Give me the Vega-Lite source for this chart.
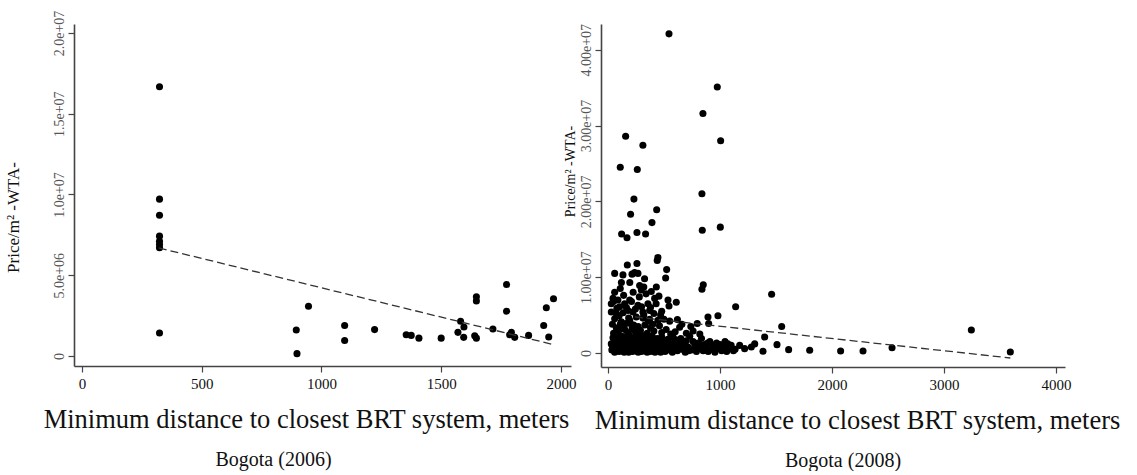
{
  "$schema": "https://vega.github.io/schema/vega-lite/v6.json",
  "background": "white",
  "padding": {"left": 3, "top": 10, "right": 0, "bottom": 0},
  "config": {
    "font": "Liberation Serif",
    "view": {"stroke": null},
    "axis": {"grid": false, "domainColor": "#444", "domainWidth": 1.6, "tickColor": "#444", "tickWidth": 1.2, "tickSize": 6, "labelFont": "Liberation Serif", "titleFont": "Liberation Serif", "titleFontWeight": "normal", "labelFontSize": 15},
    "title": {"font": "Liberation Serif", "fontWeight": "normal"}
  },
  "datasets": {
    "p2006": [
      {"d":324,"v":16670000},{"d":324,"v":9710000},{"d":324,"v":8710000},{"d":324,"v":7420000},{"d":324,"v":7100000},{"d":324,"v":6900000},{"d":324,"v":6700000},{"d":324,"v":1420000},
      {"d":895,"v":1600000},{"d":898,"v":140000},{"d":946,"v":3080000},{"d":1097,"v":1880000},{"d":1097,"v":960000},{"d":1222,"v":1630000},{"d":1354,"v":1310000},{"d":1375,"v":1270000},{"d":1407,"v":1100000},{"d":1500,"v":1100000},{"d":1570,"v":1460000},{"d":1581,"v":2150000},{"d":1595,"v":1790000},{"d":1594,"v":1150000},{"d":1640,"v":1250000},{"d":1647,"v":1100000},{"d":1647,"v":3670000},{"d":1647,"v":3400000},{"d":1716,"v":1670000},{"d":1773,"v":4420000},{"d":1773,"v":2770000},{"d":1786,"v":1310000},{"d":1793,"v":1460000},{"d":1807,"v":1150000},{"d":1865,"v":1270000},{"d":1928,"v":1880000},{"d":1939,"v":2980000},{"d":1949,"v":1170000},{"d":1969,"v":3540000}
    ],
    "l2006": [{"d":321,"v":6690000},{"d":1971,"v":690000}],
    "l2008": [{"d":240,"v":4750000},{"d":3592,"v":-660000}],
    "p2008": [
      {"d":545,"v":42100000},{"d":976,"v":35100000},{"d":848,"v":31600000},{"d":1006,"v":28000000},{"d":158,"v":28600000},{"d":312,"v":27400000},{"d":110,"v":24500000},{"d":262,"v":24200000},{"d":839,"v":21000000},{"d":232,"v":20300000},{"d":435,"v":18900000},{"d":202,"v":18300000},{"d":393,"v":17200000},{"d":1003,"v":16600000},{"d":842,"v":16200000},{"d":122,"v":15700000},{"d":170,"v":15200000},{"d":259,"v":15900000},{"d":336,"v":15700000},{"d":446,"v":12600000},{"d":440,"v":12200000},{"d":524,"v":11000000},{"d":173,"v":11600000},{"d":259,"v":11800000},{"d":60,"v":10500000},{"d":134,"v":10300000},{"d":238,"v":10600000},{"d":268,"v":10500000},{"d":515,"v":9900000},{"d":327,"v":9800000},{"d":283,"v":8900000},{"d":298,"v":8300000},{"d":432,"v":8700000},{"d":851,"v":9000000},{"d":839,"v":8400000},{"d":110,"v":8500000},{"d":387,"v":8100000},{"d":1461,"v":7750000},{"d":45,"v":7200000},{"d":89,"v":7000000},{"d":536,"v":7000000},{"d":610,"v":6700000},{"d":545,"v":6200000},{"d":1140,"v":6100000},{"d":417,"v":7200000},{"d":194,"v":7000000},{"d":104,"v":6100000},{"d":149,"v":6500000},{"d":268,"v":6300000},{"d":357,"v":6500000},{"d":30,"v":5400000},{"d":74,"v":5200000},{"d":179,"v":5600000},{"d":223,"v":5400000},{"d":312,"v":5400000},{"d":372,"v":5600000},{"d":982,"v":4900000},{"d":893,"v":4750000},{"d":899,"v":3900000},{"d":797,"v":3900000},{"d":60,"v":4500000},{"d":119,"v":4100000},{"d":194,"v":4300000},{"d":253,"v":4750000},{"d":312,"v":4600000},{"d":372,"v":4450000},{"d":446,"v":4300000},{"d":500,"v":4450000},{"d":551,"v":4200000},{"d":1551,"v":3500000},{"d":1399,"v":2100000},{"d":1509,"v":1100000},{"d":1613,"v":440000},{"d":1801,"v":350000},{"d":2077,"v":260000},{"d":2277,"v":260000},{"d":2536,"v":700000},{"d":3244,"v":3040000},{"d":3592,"v":130000},{"d":1384,"v":220000},{"d":1176,"v":1000000},{"d":1220,"v":570000},{"d":1280,"v":800000},{"d":1310,"v":1200000},
      {"d":50,"v":6800000},{"d":80,"v":5900000},{"d":100,"v":4900000},{"d":135,"v":5300000},{"d":140,"v":7600000},{"d":165,"v":6000000},{"d":185,"v":4600000},{"d":210,"v":6800000},{"d":225,"v":8000000},{"d":245,"v":5800000},{"d":280,"v":7400000},{"d":300,"v":6100000},{"d":320,"v":5000000},{"d":340,"v":7800000},{"d":360,"v":4200000},{"d":380,"v":6000000},{"d":410,"v":5200000},{"d":430,"v":6500000},{"d":455,"v":7500000},{"d":470,"v":5000000},{"d":30,"v":6500000},{"d":60,"v":8000000},{"d":120,"v":9300000},{"d":195,"v":9300000},{"d":215,"v":10400000},{"d":320,"v":8700000},{"d":480,"v":5500000},{"d":620,"v":4400000},{"d":660,"v":3800000},{"d":740,"v":3500000},
      {"d":40,"v":3800000},{"d":75,"v":3300000},{"d":95,"v":2900000},{"d":130,"v":3600000},{"d":150,"v":3100000},{"d":175,"v":2700000},{"d":200,"v":3900000},{"d":215,"v":3200000},{"d":245,"v":2800000},{"d":270,"v":3500000},{"d":290,"v":3000000},{"d":330,"v":3700000},{"d":350,"v":2600000},{"d":380,"v":3300000},{"d":410,"v":2900000},{"d":460,"v":3600000},{"d":480,"v":2700000},{"d":520,"v":3100000},{"d":600,"v":2800000},{"d":640,"v":3400000},{"d":700,"v":2600000},{"d":760,"v":2900000},{"d":820,"v":2500000},{"d":50,"v":2600000},{"d":110,"v":3800000},{"d":230,"v":3700000},{"d":400,"v":3800000},{"d":160,"v":3900000},{"d":280,"v":2600000},{"d":560,"v":2500000},
      {"d":30,"v":1200000},{"d":35,"v":400000},{"d":45,"v":2000000},{"d":55,"v":800000},{"d":60,"v":100000},{"d":70,"v":1500000},{"d":80,"v":500000},{"d":85,"v":2300000},{"d":95,"v":1000000},{"d":100,"v":200000},{"d":110,"v":1700000},{"d":115,"v":600000},{"d":125,"v":2200000},{"d":130,"v":300000},{"d":140,"v":1300000},{"d":145,"v":100000},{"d":155,"v":900000},{"d":160,"v":1900000},{"d":170,"v":400000},{"d":175,"v":1500000},{"d":185,"v":100000},{"d":190,"v":2400000},{"d":195,"v":1100000},{"d":205,"v":600000},{"d":210,"v":1800000},{"d":220,"v":200000},{"d":225,"v":1300000},{"d":235,"v":800000},{"d":240,"v":2100000},{"d":250,"v":300000},{"d":255,"v":1600000},{"d":265,"v":1000000},{"d":270,"v":100000},{"d":280,"v":2000000},{"d":285,"v":600000},{"d":295,"v":1400000},{"d":300,"v":200000},{"d":310,"v":2300000},{"d":315,"v":900000},{"d":325,"v":1700000},{"d":330,"v":300000},{"d":340,"v":1200000},{"d":350,"v":100000},{"d":355,"v":2000000},{"d":365,"v":700000},{"d":370,"v":1500000},{"d":380,"v":200000},{"d":390,"v":1100000},{"d":395,"v":2200000},{"d":405,"v":500000},{"d":415,"v":1600000},{"d":420,"v":100000},{"d":430,"v":900000},{"d":440,"v":1900000},{"d":450,"v":400000},{"d":460,"v":1300000},{"d":470,"v":100000},{"d":480,"v":2100000},{"d":490,"v":700000},{"d":500,"v":1500000},{"d":510,"v":200000},{"d":525,"v":1000000},{"d":535,"v":1800000},{"d":545,"v":400000},{"d":560,"v":1200000},{"d":575,"v":100000},{"d":585,"v":2000000},{"d":595,"v":700000},{"d":610,"v":1400000},{"d":620,"v":300000},{"d":635,"v":1000000},{"d":650,"v":1900000},{"d":660,"v":500000},{"d":675,"v":1200000},{"d":690,"v":100000},{"d":700,"v":1600000},{"d":715,"v":800000},{"d":730,"v":2200000},{"d":745,"v":400000},{"d":760,"v":1500000},{"d":775,"v":900000},{"d":790,"v":200000},{"d":805,"v":1300000},{"d":820,"v":600000},{"d":835,"v":1900000},{"d":850,"v":300000},{"d":865,"v":1100000},{"d":880,"v":700000},{"d":895,"v":200000},{"d":910,"v":1500000},{"d":925,"v":500000},{"d":940,"v":1000000},{"d":955,"v":100000},{"d":970,"v":1300000},{"d":985,"v":600000},{"d":1000,"v":1100000},{"d":1015,"v":300000},{"d":1030,"v":900000},{"d":1045,"v":1500000},{"d":1060,"v":200000},{"d":1080,"v":700000},{"d":1100,"v":1000000},{"d":1120,"v":300000},{"d":1135,"v":500000},
      {"d":40,"v":600000},{"d":65,"v":1900000},{"d":90,"v":300000},{"d":120,"v":1000000},{"d":150,"v":2000000},{"d":165,"v":700000},{"d":200,"v":1400000},{"d":230,"v":500000},{"d":260,"v":2300000},{"d":290,"v":1000000},{"d":320,"v":500000},{"d":345,"v":1500000},{"d":375,"v":900000},{"d":400,"v":300000},{"d":435,"v":1400000},{"d":465,"v":600000},{"d":505,"v":900000},{"d":540,"v":1300000},{"d":570,"v":600000},{"d":600,"v":1000000},{"d":630,"v":1700000},{"d":665,"v":1000000},{"d":720,"v":300000},{"d":780,"v":1200000},{"d":830,"v":1000000},{"d":890,"v":1300000},{"d":950,"v":700000},{"d":1010,"v":600000},{"d":1070,"v":1200000}
    ]
  },
  "bounds": "flush",
  "spacing": 30,
  "hconcat": [
    {
      "width": 497,
      "height": 342,
      "title": {"text": "Bogota (2006)", "orient": "bottom", "fontSize": 20, "offset": 17, "dx": -49, "color": "#111"},
      "layer": [
        {
          "data": {"name": "p2006"},
          "mark": {"type": "point", "filled": true, "color": "#000", "size": 50, "opacity": 1},
          "encoding": {
            "x": {"field": "d", "type": "quantitative", "scale": {"domain": [-33, 2042], "nice": false, "zero": false},
              "axis": {"values": [0, 500, 1000, 1500, 2000], "format": "d", "labelFont": "Liberation Serif", "labelFontSize": 15, "title": "Minimum distance to closest BRT system, meters", "titleFontSize": 26.5, "titleColor": "#111", "titlePadding": 15, "titleX": 232, "labelColor": "#111", "labelPadding": 4, "labelFlush": false}},
            "y": {"field": "v", "type": "quantitative", "scale": {"domain": [-625000, 20560000], "nice": false, "zero": false},
              "axis": {"values": [0, 5000000, 10000000, 15000000, 20000000], "labelExpr": "datum.value == 0 ? '0' : replace(format(datum.value, '.1e'), 'e+', 'e+0')", "labelFont": "Liberation Serif", "labelFontSize": 14, "labelAngle": -90, "labelAlign": "center", "labelBaseline": "bottom", "labelPadding": 2, "labelColor": "#555", "title": "Price/m² -WTA-", "titleFontSize": 17, "titleColor": "#111", "titlePadding": 30, "titleY": 193}}
          }
        },
        {
          "data": {"name": "l2006"},
          "mark": {"type": "line", "color": "#333", "strokeWidth": 1.3, "strokeDash": [8, 4]},
          "encoding": {
            "x": {"field": "d", "type": "quantitative"},
            "y": {"field": "v", "type": "quantitative"}
          }
        }
      ]
    },
    {
      "width": 464,
      "height": 343,
      "title": {"text": "Bogota (2008)", "orient": "bottom", "fontSize": 20, "offset": 17, "dx": 10, "color": "#111"},
      "layer": [
        {
          "data": {"name": "p2008"},
          "mark": {"type": "point", "filled": true, "color": "#000", "size": 50, "opacity": 1},
          "encoding": {
            "x": {"field": "d", "type": "quantitative", "scale": {"domain": [-62, 4080], "nice": false, "zero": false},
              "axis": {"values": [0, 1000, 2000, 3000, 4000], "format": "d", "labelFont": "Liberation Serif", "labelFontSize": 15, "title": "Minimum distance to closest BRT system, meters", "titleFontSize": 26.5, "titleColor": "#111", "titlePadding": 15, "titleX": 256, "labelColor": "#111", "labelPadding": 4, "labelFlush": false}},
            "y": {"field": "v", "type": "quantitative", "scale": {"domain": [-1850000, 43400000], "nice": false, "zero": false},
              "axis": {"values": [0, 10000000, 20000000, 30000000, 40000000], "labelExpr": "datum.value == 0 ? '0' : replace(format(datum.value, '.2e'), 'e+', 'e+0')", "labelFont": "Liberation Serif", "labelFontSize": 14, "labelAngle": -90, "labelAlign": "center", "labelBaseline": "bottom", "labelPadding": 2, "labelColor": "#555", "title": "Price/m² -WTA-", "titleFontSize": 14, "titleColor": "#111", "titlePadding": 2, "titleY": 147}}
          }
        },
        {
          "data": {"name": "l2008"},
          "mark": {"type": "line", "color": "#333", "strokeWidth": 1.3, "strokeDash": [8, 4]},
          "encoding": {
            "x": {"field": "d", "type": "quantitative"},
            "y": {"field": "v", "type": "quantitative"}
          }
        }
      ]
    }
  ]
}
